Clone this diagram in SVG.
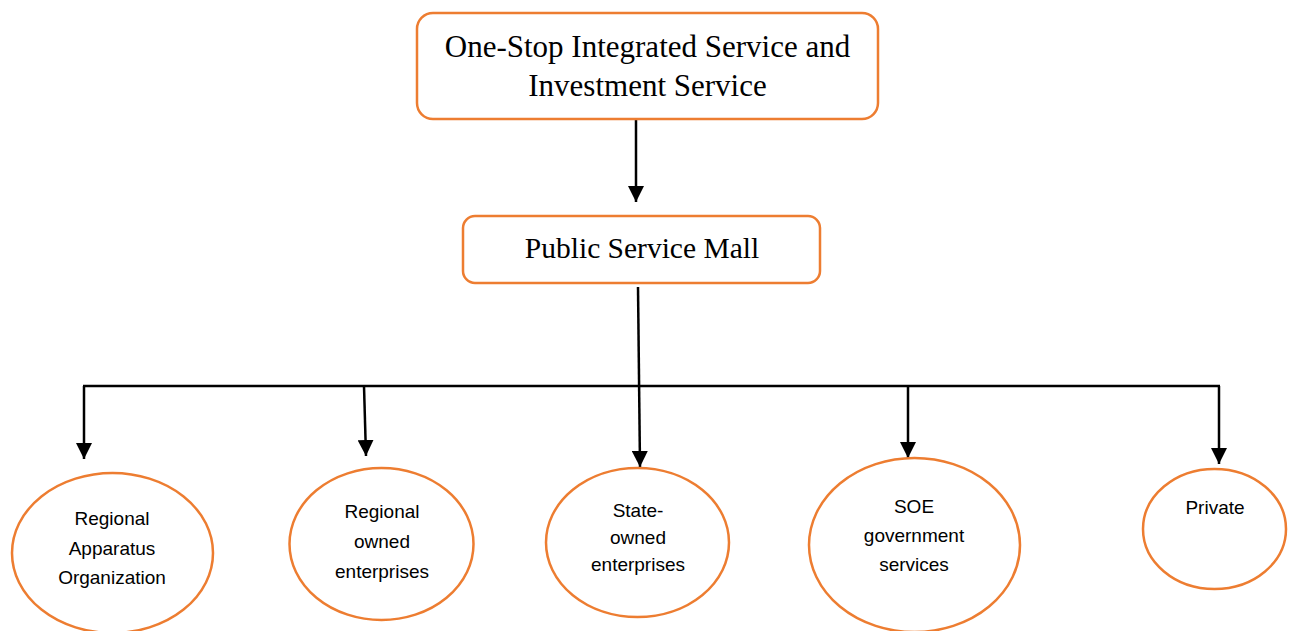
<svg xmlns="http://www.w3.org/2000/svg" width="1293" height="631" viewBox="0 0 1293 631">
<defs>
<marker id="ah" markerUnits="userSpaceOnUse" markerWidth="16" markerHeight="16" viewBox="0 0 16 16" refX="16" refY="8" orient="auto">
<path d="M0,0 L16,8 L0,16 Z" fill="#000"/>
</marker>
<style>
.box{fill:#fff;stroke:#ED7D31;stroke-width:2.5}
.ell{fill:#fff;stroke:#ED7D31;stroke-width:2.5}
.ser{font-family:"Liberation Serif",serif;fill:#000;text-anchor:middle}
.san{font-family:"Liberation Sans",Arial,sans-serif;font-size:19px;fill:#000;text-anchor:middle}
.ln{stroke:#000;stroke-width:2.5;fill:none}
.ar{stroke:#000;stroke-width:2.5;fill:none;marker-end:url(#ah)}
</style>
</defs>
<rect width="1293" height="631" fill="#fff"/>
<g id="connectors">
<line class="ar" x1="636" y1="119" x2="636" y2="202"/>
<line class="ar" x1="638" y1="287" x2="640" y2="467"/>
<line class="ln" x1="83" y1="386" x2="1220" y2="386"/>
<line class="ar" x1="84" y1="386" x2="84" y2="459"/>
<line class="ar" x1="364" y1="386" x2="366" y2="456"/>
<line class="ar" x1="908" y1="386" x2="908" y2="458"/>
<line class="ar" x1="1219" y1="386" x2="1219" y2="464"/>
</g>
<g id="one-stop">
<rect class="box" x="417" y="13" width="461" height="106" rx="16"/>
<text class="ser" font-size="31" x="647.5" y="57">One-Stop Integrated Service and</text>
<text class="ser" font-size="31" x="647.5" y="96">Investment Service</text>
</g>
<g id="mall">
<rect class="box" x="463" y="216" width="357" height="67" rx="12"/>
<text class="ser" font-size="29.5" x="642" y="258">Public Service Mall</text>
</g>
<g id="rao">
<ellipse class="ell" cx="112.5" cy="553" rx="100.5" ry="80"/>
<text class="san" x="112" y="525">Regional</text>
<text class="san" x="112" y="555">Apparatus</text>
<text class="san" x="112" y="584">Organization</text>
</g>
<g id="roe">
<ellipse class="ell" cx="381.5" cy="544" rx="92" ry="76"/>
<text class="san" x="382" y="518">Regional</text>
<text class="san" x="382" y="548">owned</text>
<text class="san" x="382" y="578">enterprises</text>
</g>
<g id="soe">
<ellipse class="ell" cx="637.5" cy="542.5" rx="91.5" ry="74.5"/>
<text class="san" x="638" y="517">State-</text>
<text class="san" x="638" y="544">owned</text>
<text class="san" x="638" y="571">enterprises</text>
</g>
<g id="soe-gov">
<ellipse class="ell" cx="914.5" cy="545" rx="105.5" ry="87"/>
<text class="san" x="914" y="513">SOE</text>
<text class="san" x="914" y="542">government</text>
<text class="san" x="914" y="571">services</text>
</g>
<g id="private">
<ellipse class="ell" cx="1214.5" cy="529" rx="71.5" ry="60"/>
<text class="san" x="1215" y="514">Private</text>
</g>
</svg>
